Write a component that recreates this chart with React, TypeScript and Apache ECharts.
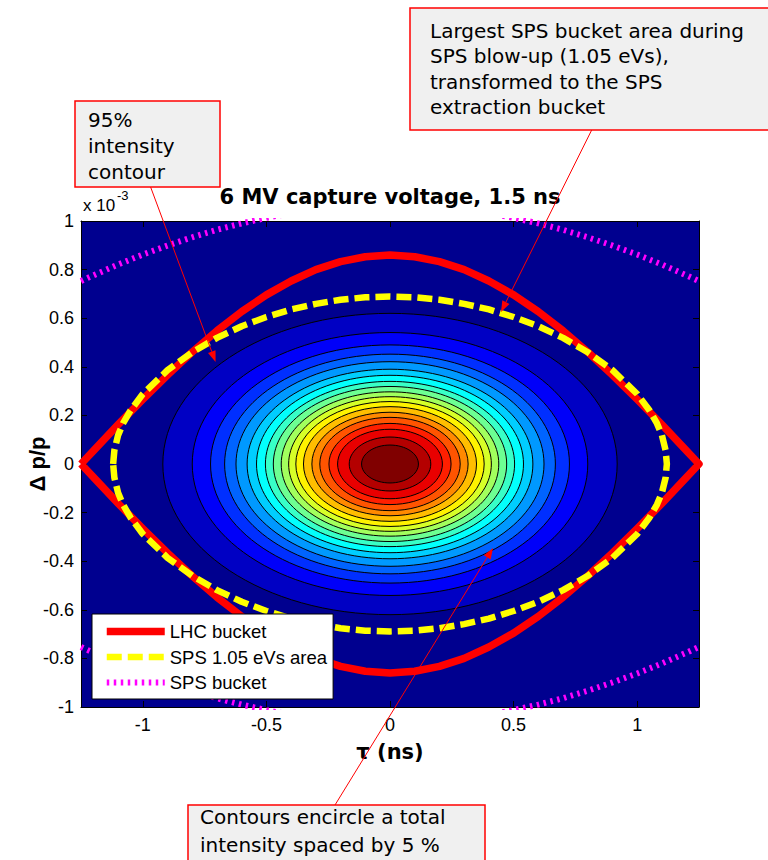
import React, { useEffect, useRef } from "react";
import * as echarts from "echarts";

// ---------- axis ticks ----------
const xTicks = [-1, -0.5, 0, 0.5, 1];
const yTicks = [-1, -0.8, -0.6, -0.4, -0.2, 0, 0.2, 0.4, 0.6, 0.8, 1];

// ---------- filled intensity contours (outer -> inner) ----------
const enclosedPct = [95, 90, 85, 80, 75, 70, 65, 60, 55, 50, 45, 40, 35, 30, 25, 20, 15, 10, 5];
const contourTauSemi = [0.919, 0.8, 0.726, 0.669, 0.623, 0.578, 0.54, 0.504, 0.472, 0.44, 0.41, 0.381, 0.35, 0.316, 0.284, 0.247, 0.212, 0.165, 0.115];
const contourDpSemi = [0.62, 0.541, 0.49, 0.452, 0.421, 0.39, 0.365, 0.34, 0.319, 0.297, 0.277, 0.257, 0.236, 0.213, 0.192, 0.167, 0.143, 0.111, 0.078];

// ---------- LHC bucket (separatrix) ----------
const lhcTau = [-1.25, -1.2, -1.1, -1.0, -0.9, -0.8, -0.7, -0.6, -0.5, -0.4, -0.3, -0.2, -0.1, 0, 0.1, 0.2, 0.3, 0.4, 0.5, 0.6, 0.7, 0.8, 0.9, 1.0, 1.1, 1.2, 1.25];
const lhcUpper = [0, 0.054, 0.162, 0.266, 0.366, 0.461, 0.548, 0.627, 0.696, 0.753, 0.8, 0.833, 0.853, 0.86, 0.853, 0.833, 0.8, 0.753, 0.696, 0.627, 0.548, 0.461, 0.366, 0.266, 0.162, 0.054, 0];
const lhcLower = [0, -0.054, -0.162, -0.266, -0.366, -0.461, -0.548, -0.627, -0.696, -0.753, -0.8, -0.833, -0.853, -0.86, -0.853, -0.833, -0.8, -0.753, -0.696, -0.627, -0.548, -0.461, -0.366, -0.266, -0.162, -0.054, 0];

// ---------- SPS 1.05 eVs area ----------
const spsAreaTau = [-1.12, -1.115, -1.1, -1.08, -1.05, -1.0, -0.9, -0.8, -0.7, -0.6, -0.5, -0.4, -0.3, -0.2, -0.1, 0, 0.1, 0.2, 0.3, 0.4, 0.5, 0.6, 0.7, 0.8, 0.9, 1.0, 1.05, 1.08, 1.1, 1.115, 1.12];
const spsAreaUpper = [0, 0.056, 0.118, 0.167, 0.22, 0.288, 0.386, 0.46, 0.519, 0.567, 0.605, 0.636, 0.659, 0.676, 0.686, 0.689, 0.686, 0.676, 0.659, 0.636, 0.605, 0.567, 0.519, 0.46, 0.386, 0.288, 0.22, 0.167, 0.118, 0.056, 0];
const spsAreaLower = [0, -0.056, -0.118, -0.167, -0.22, -0.288, -0.386, -0.46, -0.519, -0.567, -0.605, -0.636, -0.659, -0.676, -0.686, -0.689, -0.686, -0.676, -0.659, -0.636, -0.605, -0.567, -0.519, -0.46, -0.386, -0.288, -0.22, -0.167, -0.118, -0.056, 0];

// ---------- SPS bucket ----------
const spsBktTau = [-1.25, -1.2, -1.1, -1.0, -0.9, -0.8, -0.7, -0.6, -0.5, -0.4, -0.3, -0.2, -0.1, 0, 0.1, 0.2, 0.3, 0.4, 0.5, 0.6, 0.7, 0.8, 0.9, 1.0, 1.1, 1.2, 1.25];
const spsBktUpper = [0.753, 0.776, 0.821, 0.862, 0.899, 0.933, 0.964, 0.99, 1.013, 1.032, 1.046, 1.057, 1.063, 1.065, 1.063, 1.057, 1.046, 1.032, 1.013, 0.99, 0.964, 0.933, 0.899, 0.862, 0.821, 0.776, 0.753];
const spsBktLower = [-0.753, -0.776, -0.821, -0.862, -0.899, -0.933, -0.964, -0.99, -1.013, -1.032, -1.046, -1.057, -1.063, -1.065, -1.063, -1.057, -1.046, -1.032, -1.013, -0.99, -0.964, -0.933, -0.899, -0.862, -0.821, -0.776, -0.753];

const seriesNames = ["LHC bucket", "SPS 1.05 eVs area", "SPS bucket"];

const FONT = "'Liberation Sans', Arial, Helvetica, sans-serif";
const WIDE_FONT = "'DejaVu Sans', Verdana, sans-serif";
const NOTE_FONT = "'Comic Sans MS', 'DejaVu Sans', sans-serif";

const RED = { color: "#ff0000", width: 7.5, type: "solid", cap: "butt" };
const YELLOW = { color: "#ffff00", width: 6.5, type: [15, 6], cap: "butt" };
const MAGENTA = { color: "#ff00ff", width: 6, type: [2.5, 4.5], cap: "butt" };

function jet(t: number): string {
  const s = (63 * t) / 16;
  const cl = (v: number) => Math.round(255 * Math.max(0, Math.min(1, v)));
  const r = cl(Math.min(s - 1.4375, 4.4375 - s));
  const g = cl(Math.min(s - 0.4375, 3.4375 - s));
  const b = cl(Math.min(s + 0.5625, 2.4375 - s));
  return `rgb(${r},${g},${b})`;
}

function closedLoop(tau: number[], upper: number[], lower: number[]) {
  const up = tau.map((t, i) => [t, upper[i]]);
  const lo = tau.map((t, i) => [t, lower[i]]).reverse();
  return up.concat(lo);
}

function arrow(x0: number, y0: number, x1: number, y1: number) {
  const dx = x1 - x0, dy = y1 - y0;
  const L = Math.hypot(dx, dy);
  const ux = dx / L, uy = dy / L;
  const len = 11, hw = 4;
  const bx = x1 - ux * len, by = y1 - uy * len;
  return [
    { type: "line", z: 100, shape: { x1: x0, y1: y0, x2: bx, y2: by }, style: { stroke: "#ff0000", lineWidth: 1 } },
    {
      type: "polygon", z: 100,
      shape: { points: [[x1, y1], [bx - uy * hw, by + ux * hw], [bx + uy * hw, by - ux * hw]] },
      style: { fill: "#ff0000" },
    },
  ];
}

function noteBox(x: number, y: number, w: number, h: number, tx: number, ty: number, text: string, lh: number) {
  return [
    { type: "rect", z: 100, shape: { x, y, width: w, height: h }, style: { fill: "#f0f0f0", stroke: "#ff0000", lineWidth: 1.5 } },
    {
      type: "text", z: 101, x: tx, y: ty,
      style: { text, fill: "#000", fontSize: 20, fontFamily: NOTE_FONT, lineHeight: lh, align: "left", verticalAlign: "top" },
    },
  ];
}

export default function App() {
  const ref = useRef<HTMLDivElement>(null);
  useEffect(() => {
    if (!ref.current) return;
    const chart = echarts.init(ref.current, null, { renderer: "svg" });

    const axisCommon = {
      type: "value",
      splitLine: { show: false },
      axisLine: { show: true, onZero: false, lineStyle: { color: "#000", width: 1 } },
    };

    const option: any = {
      animation: false,
      backgroundColor: "#fff",
      grid: {
        left: 81, right: 69, top: 221, bottom: 153,
        show: true, backgroundColor: jet(0), borderWidth: 0,
      },
      xAxis: [
        {
          ...axisCommon, position: "bottom", min: -1.25, max: 1.25,
          axisTick: { show: true, inside: true, length: 6, customValues: xTicks, lineStyle: { color: "#000" } },
          axisLabel: { customValues: xTicks, margin: 9, fontSize: 18, color: "#000", fontFamily: FONT, formatter: (v: number) => String(v) },
        },
        {
          ...axisCommon, position: "top", min: -1.25, max: 1.25,
          axisTick: { show: true, inside: true, length: 6, customValues: xTicks, lineStyle: { color: "#000" } },
          axisLabel: { show: false },
        },
      ],
      yAxis: [
        {
          ...axisCommon, position: "left", min: -1, max: 1,
          axisTick: { show: true, inside: true, length: 6, customValues: yTicks, lineStyle: { color: "#000" } },
          axisLabel: { customValues: yTicks, margin: 7, fontSize: 18, color: "#000", fontFamily: FONT, formatter: (v: number) => String(Math.round(v * 10) / 10) },
        },
        {
          ...axisCommon, position: "right", min: -1, max: 1,
          axisTick: { show: true, inside: true, length: 6, customValues: yTicks, lineStyle: { color: "#000" } },
          axisLabel: { show: false },
        },
      ],
      legend: {
        data: [
          { name: seriesNames[0], lineStyle: { width: RED.width, type: RED.type } },
          { name: seriesNames[1], lineStyle: { width: YELLOW.width, type: YELLOW.type } },
          { name: seriesNames[2], lineStyle: { width: MAGENTA.width, type: MAGENTA.type } },
        ],
        orient: "vertical",
        left: 92, top: 614,
        itemWidth: 58, itemHeight: 14, itemGap: 6.5,
        padding: [8, 6, 7, 11],
        backgroundColor: "#fff", borderColor: "#000", borderWidth: 1, borderRadius: 0,
        itemStyle: { opacity: 0 },
        lineStyle: { width: "inherit", type: "inherit", cap: "butt" },
        textStyle: { fontSize: 18.5, color: "#000", fontFamily: FONT },
        selectedMode: false,
        z: 50,
      },
      series: [
        {
          type: "custom",
          name: "intensity contours",
          coordinateSystem: "cartesian2d",
          silent: true,
          z: 1,
          data: contourTauSemi.map((a, i) => [a, contourDpSemi[i], i + 1, enclosedPct[i]]),
          encode: { x: 0, y: 1 },
          renderItem: (params: any, api: any) => {
            const a = api.value(0);
            const b = api.value(1);
            const k = api.value(2);
            const c = api.coord([0, 0]);
            const s = api.size([a, b]);
            return {
              type: "ellipse",
              shape: { cx: c[0], cy: c[1], rx: s[0], ry: s[1] },
              style: { fill: jet(k / 19), stroke: "#000", lineWidth: 1 },
            };
          },
        },
        {
          type: "line", name: seriesNames[0], symbol: "none", showSymbol: false, z: 3,
          data: closedLoop(lhcTau, lhcUpper, lhcLower),
          lineStyle: { ...RED, join: "round" },
          itemStyle: { color: RED.color },
        },
        {
          type: "line", name: seriesNames[1], symbol: "none", showSymbol: false, z: 4,
          data: closedLoop(spsAreaTau, spsAreaUpper, spsAreaLower),
          lineStyle: { ...YELLOW },
          itemStyle: { color: YELLOW.color },
        },
        {
          type: "line", name: seriesNames[2], symbol: "none", showSymbol: false, z: 4,
          data: spsBktTau.map((t, i) => [t, spsBktUpper[i]]),
          lineStyle: { ...MAGENTA },
          itemStyle: { color: MAGENTA.color },
        },
        {
          type: "line", name: seriesNames[2], symbol: "none", showSymbol: false, z: 4,
          data: spsBktTau.map((t, i) => [t, spsBktLower[i]]),
          lineStyle: { ...MAGENTA },
          itemStyle: { color: MAGENTA.color },
        },
      ],
      graphic: [
        {
          type: "text", z: 100, x: 390, y: 197,
          style: { text: "6 MV capture voltage, 1.5 ns", fill: "#000", fontSize: 21, fontWeight: "bold", fontFamily: WIDE_FONT, align: "center", verticalAlign: "middle" },
        },
        {
          type: "text", z: 100, x: 83, y: 205,
          style: { text: "x 10", fill: "#000", fontSize: 17, fontFamily: FONT, align: "left", verticalAlign: "middle" },
        },
        {
          type: "text", z: 100, x: 117, y: 195,
          style: { text: "-3", fill: "#000", fontSize: 13, fontFamily: FONT, align: "left", verticalAlign: "middle" },
        },
        {
          type: "text", z: 100, x: 37, y: 464, rotation: Math.PI / 2,
          style: { text: "Δ p/p", fill: "#000", fontSize: 22, fontWeight: "bold", fontFamily: FONT, align: "center", verticalAlign: "middle" },
        },
        {
          type: "text", z: 100, x: 390, y: 752,
          style: { text: "τ (ns)", fill: "#000", fontSize: 21, fontWeight: "bold", fontFamily: WIDE_FONT, align: "center", verticalAlign: "middle" },
        },
        ...noteBox(75, 101, 145, 86, 88, 107, "95%\nintensity\ncontour", 26),
        ...noteBox(410, 8, 362, 122, 430, 18, "Largest SPS bucket area during\nSPS blow-up (1.05 eVs),\ntransformed to the SPS\nextraction bucket", 25.5),
        ...noteBox(188, 805, 297, 70, 200, 803, "Contours encircle a total\nintensity spaced by 5 %", 28),
        ...arrow(150.6, 187, 215.6, 362),
        ...arrow(591.7, 130, 501, 312),
        ...arrow(335, 805, 493, 548),
      ],
    };

    chart.setOption(option);
    return () => chart.dispose();
  }, []);

  return <div ref={ref} style={{ position: "absolute", left: 0, top: 0, width: 768, height: 860 }} />;
}
